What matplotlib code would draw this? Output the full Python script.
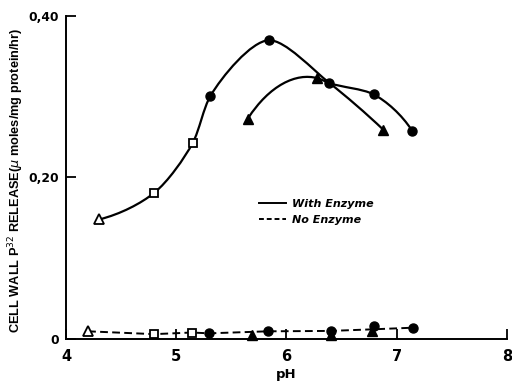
import numpy as np
import matplotlib
matplotlib.use("Agg")
import matplotlib.pyplot as plt
from matplotlib.path import Path
from matplotlib.patches import PathPatch
from matplotlib.lines import Line2D

# With enzyme: marker data
open_tri_ph = [4.30]
open_tri_val = [0.148]
open_sq_ph = [4.80, 5.15]
open_sq_val = [0.181, 0.243]
circ_ph = [5.31, 5.84, 6.39, 6.79, 7.14]
circ_val = [0.301, 0.370, 0.317, 0.303, 0.258]
tri_ph = [5.65, 6.28, 6.88]
tri_val = [0.273, 0.323, 0.259]

# With enzyme: the two drawn solid curves (they cross at pH 6.39)
curve_a_ph = [4.30, 4.80, 5.15, 5.31, 5.84, 6.39, 6.88]
curve_a_val = [0.148, 0.181, 0.243, 0.301, 0.370, 0.317, 0.259]
curve_b_ph = [5.65, 6.28, 6.39, 6.79, 7.14]
curve_b_val = [0.273, 0.323, 0.317, 0.303, 0.258]

# No enzyme (dashed)
no_ph = [4.20, 4.80, 5.14, 5.30, 5.83, 6.40, 6.79, 7.15]
no_val = [0.0095, 0.006, 0.008, 0.007, 0.0095, 0.010, 0.012, 0.014]
no_circ_ph = [5.30, 5.83, 6.40, 6.79, 7.15]
no_circ_val = [0.007, 0.0095, 0.010, 0.016, 0.014]
no_tri_ph = [5.69, 6.40, 6.78]
no_tri_val = [0.005, 0.005, 0.010]

xticks = [4, 5, 6, 7, 8]
yticks = [0, 0.20, 0.40]
ytick_labels = ["0", "0,20", "0,40"]


def smooth_path(xs, ys, sx=110.0, sy=808.0, tension=0.85):
    """Chordal Bessel-tangent spline through the data points (cubic Bezier path)."""
    pts = np.column_stack([xs, ys]).astype(float)
    sc = pts * np.array([sx, sy])
    n = len(pts)
    dt = np.hypot(*np.diff(sc, axis=0).T)
    v = np.diff(pts, axis=0) / dt[:, None]
    m = np.zeros_like(pts)
    for i in range(1, n - 1):
        m[i] = (dt[i] * v[i - 1] + dt[i - 1] * v[i]) / (dt[i - 1] + dt[i])
    m[0] = 2 * v[0] - m[1] if n > 2 else v[0]
    m[-1] = 2 * v[-1] - m[-2] if n > 2 else v[-1]
    m[1:-1] *= tension
    verts = [pts[0]]
    codes = [Path.MOVETO]
    for i in range(n - 1):
        verts += [pts[i] + m[i] * dt[i] / 3, pts[i + 1] - m[i + 1] * dt[i] / 3, pts[i + 1]]
        codes += [Path.CURVE4] * 3
    return Path(verts, codes)


fig = plt.figure(figsize=(5.12, 3.82), dpi=100)
ax = fig.add_axes([0.129, 0.1126, 0.861, 0.8455])

lw = 1.6
ax.add_patch(PathPatch(smooth_path(curve_a_ph, curve_a_val), fill=False, lw=lw,
                       color="black", transform=ax.transData, zorder=2))
ax.add_patch(PathPatch(smooth_path(curve_b_ph, curve_b_val), fill=False, lw=lw,
                       color="black", transform=ax.transData, zorder=2))
ax.plot(no_ph, no_val, ls=(0, (4, 2.2)), lw=1.4, color="black", zorder=2)

ms = 6.5
kw_open = dict(mfc="white", mec="black", mew=1.3, zorder=3, ls="none", clip_on=False)
kw_fill = dict(color="black", zorder=3, ls="none", clip_on=False)
# markers, with enzyme
ax.plot(open_tri_ph, open_tri_val, "^", ms=7, **kw_open)
ax.plot(open_sq_ph, open_sq_val, "s", ms=6, **kw_open)
ax.plot(circ_ph, circ_val, "o", ms=ms, **kw_fill)
ax.plot(tri_ph, tri_val, "^", ms=7.5, **kw_fill)
# markers, no enzyme
ax.plot(no_ph[:1], no_val[:1], "^", ms=7, **kw_open)
ax.plot(no_ph[1:3], no_val[1:3], "s", ms=6, **kw_open)
ax.plot(no_circ_ph, no_circ_val, "o", ms=ms, **kw_fill)
ax.plot(no_tri_ph, no_tri_val, "^", ms=7.5, **kw_fill)

ax.set_xlim(4, 8)
ax.set_ylim(0, 0.40)
for s in ["top", "right"]:
    ax.spines[s].set_visible(False)
for s in ["left", "bottom"]:
    ax.spines[s].set_linewidth(1.4)
ax.set_xticks(xticks)
ax.set_xticklabels([str(t) for t in xticks], fontsize=10.5, fontweight="bold")
ax.set_yticks(yticks)
ax.set_yticklabels(ytick_labels, fontsize=8.8, fontweight="bold")
ax.tick_params(direction="in", length=7, width=1.3)
ax.tick_params(axis="x", pad=7)
ax.tick_params(axis="y", pad=5)
ax.set_xlabel("pH", fontsize=9.5, fontweight="bold", labelpad=3)
ax.set_ylabel(r"CELL WALL P$^{32}$ RELEASE($\mu$ moles/mg protein/hr)",
              fontsize=9.2, fontweight="bold", family="Liberation Sans")
ax.yaxis.set_label_coords(-0.09, 0.49)

handles = [Line2D([], [], color="black", lw=1.4),
           Line2D([], [], color="black", lw=1.4, ls=(0, (2.5, 1.5)))]
ax.legend(handles, ["With Enzyme", "No Enzyme"], frameon=False,
          loc="upper left", bbox_to_anchor=(0.415, 0.465), handlelength=2.4,
          handletextpad=0.6, labelspacing=0.55,
          prop={"style": "italic", "weight": "bold", "size": 8})

fig.savefig("out.png", dpi=100)
